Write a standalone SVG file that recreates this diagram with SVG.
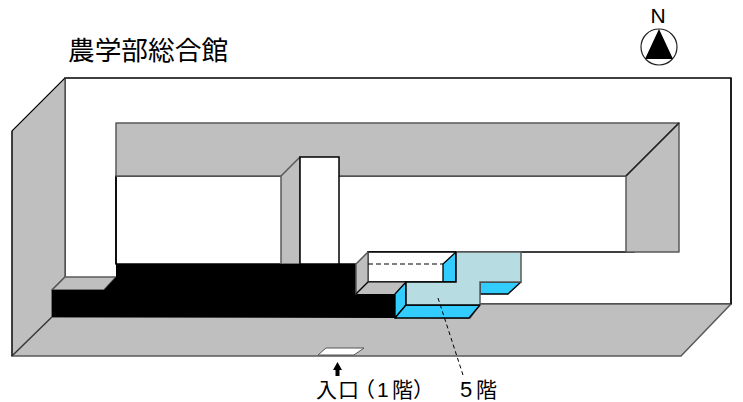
<svg xmlns="http://www.w3.org/2000/svg" width="743" height="402" viewBox="0 0 743 402">
<style>
.g{fill:#bfbfbf;stroke:#595959;stroke-width:1.5;stroke-linejoin:round}
.w{fill:#fff;stroke:#000;stroke-width:1.5}
.b{fill:#33ccff;stroke:#000;stroke-width:1.3;stroke-linejoin:round}
.t{font-family:"Noto Sans CJK JP","Liberation Sans",sans-serif;fill:#000}
.d{font-family:"Liberation Sans",sans-serif}
</style>
<rect width="743" height="402" fill="#fff"/>
<g id="building">
<path class="w" d="M65 78H731V304H65Z"/>
<path class="g" d="M12 131L65 78V277L52 290V317L12 356Z"/>
<path class="g" d="M12 356L52 317H395L470 318L480 304H731L681 356Z"/>
<path class="g" d="M65 277H116L104 290H52Z"/>
<path d="M65 78L12 131V356M731 304L731 78" fill="none" stroke="#000" stroke-width="1"/>
<path d="M12 356L52 317" stroke="#333" fill="none"/>
</g>
<g id="courtyard">
<path class="w" d="M116 176H634V252H368V264H116Z"/>
<path d="M116 176V264" stroke="#000" stroke-width="1.5"/>
<path class="g" d="M116 123H679L626 176H116Z"/>
<path class="g" d="M679 123V252H626V176Z"/>
<path d="M626 176L679 123" stroke="#222" stroke-width="1.2"/>
</g>
<g id="column">
<path class="g" d="M281 176L300 157V264H281Z"/>
<rect class="w" x="300" y="157" width="39" height="107"/>
</g>
<g id="black-wing">
<path d="M52 290H104L116 277V264H356V294H395V318L52 317Z" fill="#000"/>
</g>
<g id="fifth-floor">
<path class="w" d="M368 252H456V282H368Z"/>
<path class="g" d="M356 264L368 252V282L356 294Z"/>
<path d="M356 294L368 282H406L395 294Z" fill="#bfbfbf"/>
<path d="M356 294L368 282H406" fill="none" stroke="#000" stroke-width="1.2"/>
<path class="b" d="M443 264L456 252V282H443Z"/>
<path d="M368 264H443" fill="none" stroke="#000" stroke-width="1.2" stroke-dasharray="5 3"/>
<path class="b" d="M395 294L406 282V305L395 318Z"/>
<path class="b" d="M395 318L406 305H480L469 318Z"/>
<path class="b" d="M480 282H521L508 294H480Z"/>
<path d="M456 252H521V282H480V305H406V282H456Z" fill="#b7dde2"/>
<path d="M456 252H521V282H480V305" fill="none" stroke="#595959" stroke-width="1.5"/>
<path d="M406 305V282H456V252" fill="none" stroke="#000" stroke-width="1.5"/>
<path d="M406 305H480" fill="none" stroke="#000" stroke-width="1.5"/>
</g>
<g id="entrance">
<path d="M318 355L326 348H364L354 355Z" fill="#fff" stroke="#555"/>
<path d="M337.500 362L342 370H339.500V376H335.500V370H333Z" fill="#000"/>
<text class="t" y="397" font-size="21" x="316 338 354">入口（<tspan class="d" x="377">1</tspan><tspan x="392">階</tspan><tspan x="413">）</tspan></text>
</g>
<g id="label-5f">
<text class="t" y="397" font-size="21"><tspan class="d" x="460" font-size="22">5</tspan><tspan x="476">階</tspan></text>
</g>
<g id="title">
<text class="t" x="68" y="60" font-size="26.700">農学部総合館</text>
</g>
<g id="north">
<text x="658" y="23" font-family="Liberation Sans,sans-serif" font-size="21" text-anchor="middle">N</text>
<circle cx="659" cy="47" r="18" fill="#fff" stroke="#222" stroke-width="1.2"/>
<path d="M659 29L673 59H645Z" fill="#000"/>
</g>
<g id="connectors">
<path d="M438 298L463 375" fill="none" stroke="#000" stroke-dasharray="4 3"/>
</g>
</svg>
